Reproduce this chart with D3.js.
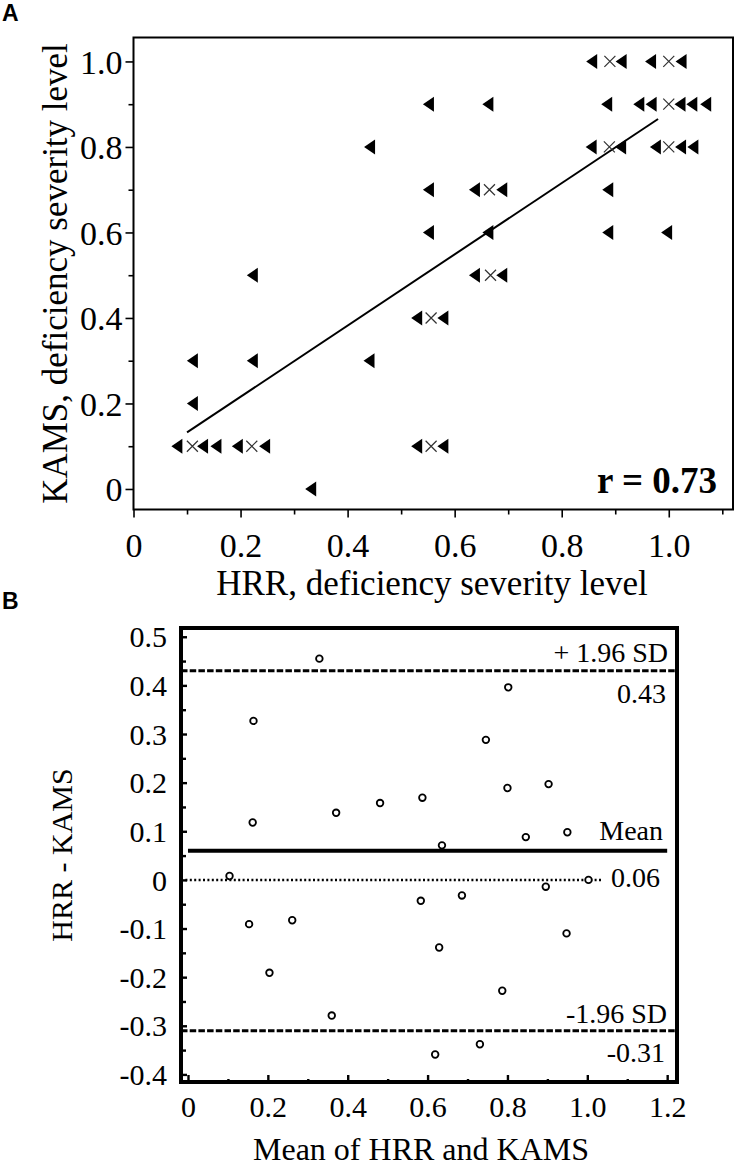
<!DOCTYPE html>
<html>
<head>
<meta charset="utf-8">
<script src="https://cdn.jsdelivr.net/npm/d3@7"></script>
<style>
  html, body { margin: 0; padding: 0; background: #fff; }
  svg { display: block; }
</style>
</head>
<body>
<svg id="chart" width="738" height="1167"></svg>
<script>
// ---------- Panel A data: HRR vs KAMS deficiency severity ----------
const triX = [
  0.856, 0.911, 0.966, 1.023,
  0.551, 0.662, 0.884, 0.944, 0.967, 1.021, 1.043, 1.069,
  0.441, 0.855, 0.910, 0.975, 1.022, 1.045,
  0.551, 0.637, 0.688, 0.886,
  0.551, 0.662, 0.886, 0.996,
  0.222, 0.637, 0.688,
  0.529, 0.578,
  0.110, 0.222, 0.440,
  0.110,
  0.081, 0.129, 0.154, 0.194, 0.245, 0.529, 0.578,
  0.331
];
const triY = [
  1.0, 1.0, 1.0, 1.0,
  0.9, 0.9, 0.9, 0.9, 0.9, 0.9, 0.9, 0.9,
  0.8, 0.8, 0.8, 0.8, 0.8, 0.8,
  0.7, 0.7, 0.7, 0.7,
  0.6, 0.6, 0.6, 0.6,
  0.5, 0.5, 0.5,
  0.4, 0.4,
  0.3, 0.3, 0.3,
  0.2,
  0.1, 0.1, 0.1, 0.1, 0.1, 0.1, 0.1,
  0.0
];
const crossX = [0.890, 1.0, 1.0, 0.889, 1.0, 0.665, 0.667, 0.556, 0.110, 0.221, 0.556];
const crossY = [1.0, 1.0, 0.9, 0.8, 0.8, 0.7, 0.5, 0.4, 0.1, 0.1, 0.1];
const fitX = [0.10, 0.98];
const fitSlope = 0.833;
const fitIntercept = 0.049;
const rText = "r = 0.73";
const aTicksMajor = [0, 0.2, 0.4, 0.6, 0.8, 1.0];
const aXTicksMinor = [0.1, 0.3, 0.5, 0.7, 0.9, 1.1];
const aYTicksMinor = [0.1, 0.3, 0.5, 0.7, 0.9];
const aXTitle = "HRR, deficiency severity level";
const aYTitle = "KAMS, deficiency severity level";

// ---------- Panel B data: Bland-Altman ----------
const baMean = [
  0.329, 0.802, 0.164, 0.746, 0.800, 0.903, 0.162, 0.371, 0.481, 0.587, 0.636, 0.846, 0.950,
  0.104, 1.003, 0.896, 0.583, 0.686, 0.153, 0.261, 0.948, 0.629, 0.204, 0.787, 0.360, 0.731, 0.619
];
const baDiff = [
  0.455, 0.396, 0.327, 0.288, 0.189, 0.197, 0.118, 0.138, 0.158, 0.169, 0.071, 0.088, 0.098,
  0.008, 0.000, -0.014, -0.043, -0.032, -0.091, -0.083, -0.110, -0.139, -0.191, -0.228, -0.279, -0.338, -0.359
];
const upperLoA = 0.43, meanDiff = 0.06, lowerLoA = -0.31, zeroLine = 0;
const bXTicksMajor = [0, 0.2, 0.4, 0.6, 0.8, 1.0, 1.2];
const bXTicksMinor = [0.1, 0.3, 0.5, 0.7, 0.9, 1.1];
const bYTicksMajor = [-0.4, -0.3, -0.2, -0.1, 0, 0.1, 0.2, 0.3, 0.4, 0.5];
const bYTicksMinor = [-0.35, -0.25, -0.15, -0.05, 0.05, 0.15, 0.25, 0.35, 0.45];
const bLineLabels = ["+ 1.96 SD", "0.43", "Mean", "0.06", "-1.96 SD", "-0.31"];
const bXTitle = "Mean of HRR and KAMS";
const bYTitle = "HRR - KAMS";

// ---------- Drawing ----------
const serif = "'Liberation Serif', 'Times New Roman', serif";
const sans = "'Liberation Sans', Arial, sans-serif";
const svg = d3.select("#chart");
const fmt = d => d === 0 ? "0" : (d < 0 ? "-" : "") + Math.abs(d).toFixed(1);

// Panel labels
svg.append("text").attr("x", 2).attr("y", 21).attr("font-family", sans)
  .attr("font-weight", "bold").attr("font-size", 23).text("A");
svg.append("text").attr("x", 2).attr("y", 609).attr("font-family", sans)
  .attr("font-weight", "bold").attr("font-size", 23).text("B");

// ===== Panel A =====
const ax = d3.scaleLinear().domain([0, 1.12]).range([133.5, 733]);
const ay = d3.scaleLinear().domain([-0.048, 1.056]).range([509.5, 37.5]);
const gA = svg.append("g");

function styleAxis(g, fs) {
  g.select(".domain").remove();
  g.selectAll("line").attr("stroke", "#000").attr("stroke-width", 1.6);
  g.selectAll("text").attr("font-family", serif).attr("font-size", fs).attr("fill", "#000");
}

const axB = gA.append("g").attr("transform", `translate(0,${ay.range()[0]})`)
  .call(d3.axisBottom(ax).tickValues(aTicksMajor).tickSize(8).tickFormat(fmt));
styleAxis(axB, 34);
axB.selectAll("text").attr("y", 47).attr("dy", null);
const axBm = gA.append("g").attr("transform", `translate(0,${ay.range()[0]})`)
  .call(d3.axisBottom(ax).tickValues(aXTicksMinor).tickSize(5).tickFormat(""));
styleAxis(axBm, 34);

const ayL = gA.append("g").attr("transform", `translate(${ax.range()[0]},0)`)
  .call(d3.axisLeft(ay).tickValues(aTicksMajor).tickSize(8).tickPadding(3).tickFormat(fmt));
styleAxis(ayL, 34);
ayL.selectAll("text").attr("dy", "0.34em");
const ayLm = gA.append("g").attr("transform", `translate(${ax.range()[0]},0)`)
  .call(d3.axisLeft(ay).tickValues(aYTicksMinor).tickSize(5).tickFormat(""));
styleAxis(ayLm, 34);

gA.append("rect").attr("x", ax.range()[0]).attr("y", ay.range()[1])
  .attr("width", ax.range()[1] - ax.range()[0]).attr("height", ay.range()[0] - ay.range()[1])
  .attr("fill", "none").attr("stroke", "#000").attr("stroke-width", 2);

// fit line
gA.append("line")
  .attr("x1", ax(fitX[0])).attr("y1", ay(fitIntercept + fitSlope * fitX[0]))
  .attr("x2", ax(fitX[1])).attr("y2", ay(fitIntercept + fitSlope * fitX[1]))
  .attr("stroke", "#000").attr("stroke-width", 2);

// triangles (pointing left)
const tw = 11, th = 15;
gA.append("g").selectAll("path").data(triX.map((x, i) => [x, triY[i]])).join("path")
  .attr("d", d => {
    const cx = ax(d[0]), cy = ay(d[1]);
    return `M${cx - tw / 2},${cy}L${cx + tw / 2},${cy - th / 2}L${cx + tw / 2},${cy + th / 2}Z`;
  })
  .attr("fill", "#000");

// crosses
const cs = 5.5;
gA.append("g").selectAll("path").data(crossX.map((x, i) => [x, crossY[i]])).join("path")
  .attr("d", d => {
    const cx = ax(d[0]), cy = ay(d[1]);
    return `M${cx - cs},${cy - cs}L${cx + cs},${cy + cs}M${cx - cs},${cy + cs}L${cx + cs},${cy - cs}`;
  })
  .attr("stroke", "#333").attr("stroke-width", 1.2).attr("fill", "none");

gA.append("text").attr("x", 717).attr("y", 493).attr("text-anchor", "end")
  .attr("font-family", serif).attr("font-weight", "bold").attr("font-size", 37).text(rText);

gA.append("text").attr("x", 432).attr("y", 595).attr("text-anchor", "middle")
  .attr("font-family", serif).attr("font-size", 35).text(aXTitle);
gA.append("text").attr("transform", `translate(67,${(ay.range()[0] + ay.range()[1]) / 2}) rotate(-90)`)
  .attr("text-anchor", "middle").attr("font-family", serif).attr("font-size", 35).text(aYTitle);

// ===== Panel B =====
const bx = d3.scaleLinear().domain([-0.0175, 1.2246]).range([181, 677]);
const by = d3.scaleLinear().domain([-0.4156, 0.518]).range([1082, 628]);
const gB = svg.append("g");

const bxA = gB.append("g").attr("transform", `translate(0,${by.range()[0]})`)
  .call(d3.axisBottom(bx).tickValues(bXTicksMajor).tickSize(-7).tickFormat(fmt));
styleAxis(bxA, 30);
bxA.selectAll("line").attr("stroke-width", 2.4);
bxA.selectAll("text").attr("y", 35).attr("dy", null);
const bxAm = gB.append("g").attr("transform", `translate(0,${by.range()[0]})`)
  .call(d3.axisBottom(bx).tickValues(bXTicksMinor).tickSize(-3).tickFormat(""));
styleAxis(bxAm, 30);
bxAm.selectAll("line").attr("stroke-width", 2.4);

const byA = gB.append("g").attr("transform", `translate(${bx.range()[0]},0)`)
  .call(d3.axisLeft(by).tickValues(bYTicksMajor).tickSize(-6).tickPadding(14).tickFormat(fmt));
styleAxis(byA, 30);
byA.selectAll("line").attr("stroke-width", 2.4);
byA.selectAll("text").attr("dy", "0.34em");
const byAm = gB.append("g").attr("transform", `translate(${bx.range()[0]},0)`)
  .call(d3.axisLeft(by).tickValues(bYTicksMinor).tickSize(-5).tickFormat(""));
styleAxis(byAm, 30);
byAm.selectAll("line").attr("stroke-width", 2.4);

// reference lines
gB.append("line").attr("x1", bx.range()[0]).attr("x2", bx.range()[1])
  .attr("y1", by(upperLoA)).attr("y2", by(upperLoA))
  .attr("stroke", "#000").attr("stroke-width", 3).attr("stroke-dasharray", "6.5,2.2");
gB.append("line").attr("x1", bx.range()[0]).attr("x2", bx.range()[1])
  .attr("y1", by(lowerLoA)).attr("y2", by(lowerLoA))
  .attr("stroke", "#000").attr("stroke-width", 3).attr("stroke-dasharray", "6.5,2.2");
gB.append("line").attr("x1", bx(0)).attr("x2", bx(1.2))
  .attr("y1", by(meanDiff)).attr("y2", by(meanDiff))
  .attr("stroke", "#000").attr("stroke-width", 4);
gB.append("line").attr("x1", bx.range()[0]).attr("x2", bx(1.04))
  .attr("y1", by(zeroLine)).attr("y2", by(zeroLine))
  .attr("stroke", "#000").attr("stroke-width", 2.5).attr("stroke-dasharray", "2,2.4");

// circles
gB.append("g").selectAll("circle").data(baMean.map((x, i) => [x, baDiff[i]])).join("circle")
  .attr("cx", d => bx(d[0])).attr("cy", d => by(d[1])).attr("r", 3.3)
  .attr("fill", "#fff").attr("stroke", "#000").attr("stroke-width", 1.8);

// line labels
const labPos = [
  [668, by(upperLoA) - 9], [666, by(upperLoA) + 32],
  [663, by(meanDiff) - 11], [660, by(zeroLine) + 7],
  [667, by(lowerLoA) - 8], [665, by(lowerLoA) + 31]
];
bLineLabels.forEach((t, i) => {
  gB.append("text").attr("x", labPos[i][0]).attr("y", labPos[i][1]).attr("text-anchor", "end")
    .attr("font-family", serif).attr("font-size", 28).text(t);
});

gB.append("rect").attr("x", bx.range()[0]).attr("y", by.range()[1])
  .attr("width", bx.range()[1] - bx.range()[0]).attr("height", by.range()[0] - by.range()[1])
  .attr("fill", "none").attr("stroke", "#000").attr("stroke-width", 4);

gB.append("text").attr("x", 421).attr("y", 1160).attr("text-anchor", "middle")
  .attr("font-family", serif).attr("font-size", 32).text(bXTitle);
gB.append("text").attr("transform", `translate(72,${(by.range()[0] + by.range()[1]) / 2}) rotate(-90)`)
  .attr("text-anchor", "middle").attr("font-family", serif).attr("font-size", 30).text(bYTitle);
</script>
</body>
</html>
